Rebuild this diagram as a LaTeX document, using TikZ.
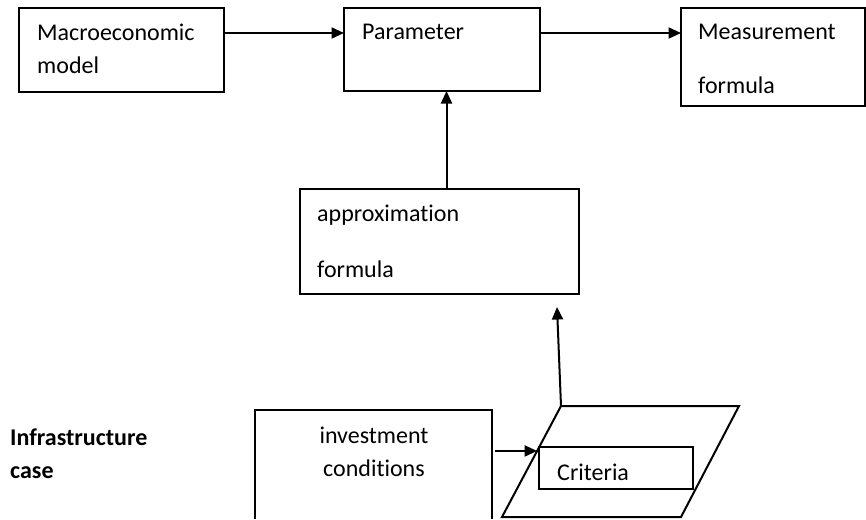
\documentclass[tikz,border=0pt]{standalone}
\usepackage{fontspec}
\setmainfont{Carlito}[Ligatures={NoCommon,NoContextual,NoRare}]
\usetikzlibrary{arrows.meta,calc}
\tikzset{
  box/.style={draw, line width=2pt, rectangle, anchor=north west, inner sep=0pt, outer sep=0pt},
  frame/.style={rectangle, anchor=north west, inner sep=0pt, outer sep=0pt},
  txt/.style={anchor=base west, inner sep=0pt, font=\fontsize{24}{29}\selectfont},
  edge/.style={line width=2pt},
  flow/.style={line width=2pt, -{Triangle[length=12.5pt,width=11pt]}},
}
\begin{document}
\begin{tikzpicture}[x=1pt,y=-1pt]
\useasboundingbox (0,0) rectangle (866,519);

% boxes
\node[box, minimum width=205pt, minimum height=84pt] (macro) at (19,8) {};
\node[box, minimum width=196pt, minimum height=83pt] (param) at (344,8) {};
\node[box, minimum width=184pt, minimum height=98pt] (meas) at (681,8) {};
\node[box, minimum width=279pt, minimum height=105pt] (approx) at (300,189) {};
\node[frame, minimum width=237pt, minimum height=109pt] (inv) at (255,410) {};
\draw[edge] (inv.south west) |- (inv.north east) -- (inv.south east);

% parallelogram with the criteria box inside
\coordinate (ptl) at (561,406);
\coordinate (ptr) at (739,406);
\coordinate (pbr) at (681,517);
\coordinate (pbl) at (502,517);
\draw[edge] (ptl) -- (ptr) -- (pbr) -- (pbl) -- cycle;
\node[box, minimum width=154pt, minimum height=42pt] (crit) at (539,447) {};

% labels
\node[txt] (tmacroa) at (37,41) {Macroeconomic};
\node[txt] (tmacrob) at (37,74) {model};
\node[txt] (tparam) at (362,40) {Parameter};
\node[txt] (tmeasa) at (698,40) {Measurement};
\node[txt] (tmeasb) at (698,93) {formula};
\node[txt] (tapproxa) at (317,221) {approximat\kern0pt ion};
\node[txt] (tapproxb) at (317,277) {formula};
\node[txt, anchor=base] (tinva) at (374,443) {investment};
\node[txt, anchor=base] (tinvb) at (374,476) {conditions};
\node[txt] (tcrit) at (557,480) {Criteria};
\node[txt, font=\fontsize{24}{29}\selectfont\bfseries] (tcasea) at (10,445) {Infrastructure};
\node[txt, font=\fontsize{24}{29}\selectfont\bfseries] (tcaseb) at (10,478) {case};

% connectors
\draw[flow] ([yshift=-25pt]macro.north east) -- ([yshift=-25pt]param.north west);
\draw[flow] ([yshift=-25pt]param.north east) -- ([yshift=-25pt]meas.north west);
\draw[flow] ([xshift=7pt]approx.north) -- ([xshift=7pt]approx.north |- param.south);
\coordinate (uptip) at ($(ptl |- approx.south)+(-4,13)$);
\draw[flow] (ptl) -- (uptip);
\coordinate (pin) at ($(ptl)!0.405!(pbl)$);
\draw[flow] ($(inv.east |- pin)+(3,0)$) -- (pin);
\end{tikzpicture}
\end{document}
